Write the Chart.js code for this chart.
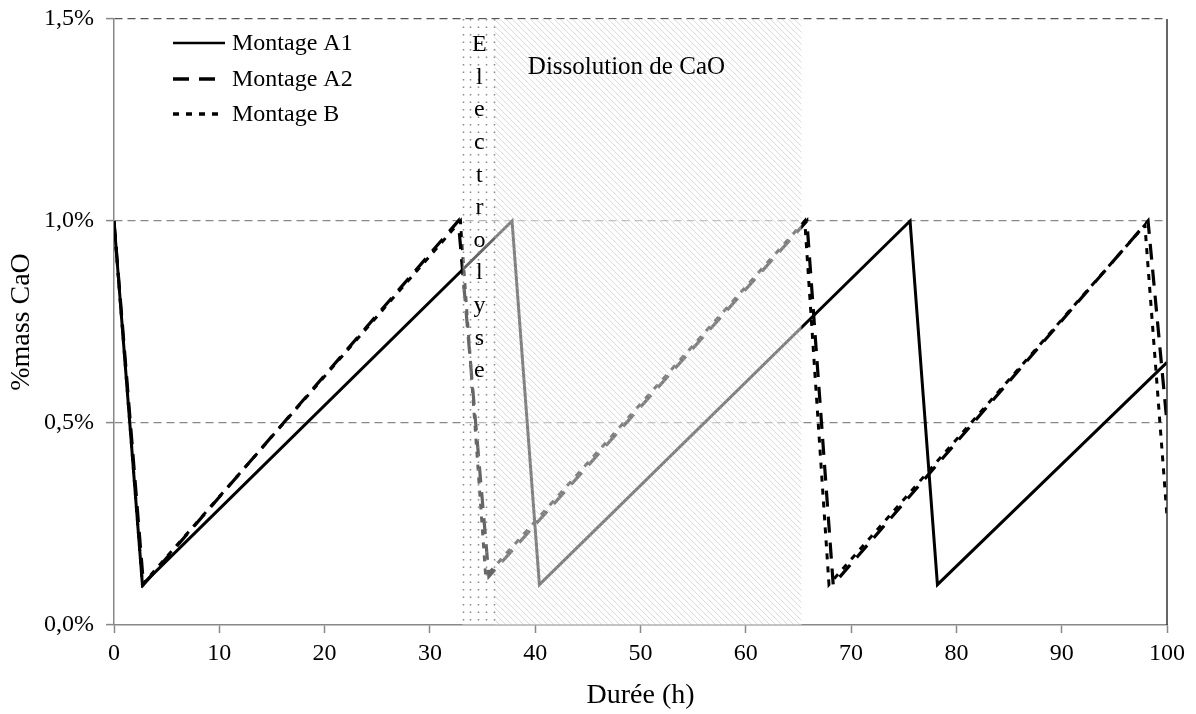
<!DOCTYPE html>
<html lang="fr">
<head>
    <meta charset="UTF-8">
    <title>%mass CaO - Durée</title>
    <script src="https://cdn.jsdelivr.net/npm/chart.js"></script>
    <style>
        body { margin: 0; background: white; }
        #chart { display: block; }
    </style>
</head>
<body>
    <canvas id="chart" width="1196" height="714"></canvas>

    <script>
        // Montage A1 (solid)
        const a1Hours = [0, 2.7, 37.8, 40.4, 75.6, 78.2, 100];
        const a1CaO   = [1.0, 0.1, 1.0, 0.1, 1.0, 0.1, 0.65];
        // Montage A2 (long dashes)
        const a2Hours = [0, 2.8, 32.7, 35.6, 65.8, 68.3, 98.2, 100];
        const a2CaO   = [1.0, 0.1, 1.0, 0.12, 1.0, 0.1, 1.0, 0.5];
        // Montage B (short dashes)
        const bHours  = [0, 2.7, 32.9, 35.3, 65.6, 67.9, 97.9, 100];
        const bCaO    = [1.0, 0.1, 1.0, 0.12, 1.0, 0.1, 0.99, 0.27];

        const seriesNames = ['Montage A1', 'Montage A2', 'Montage B'];
        const xTicks = [0, 10, 20, 30, 40, 50, 60, 70, 80, 90, 100];
        const yTicks = [0, 0.5, 1.0, 1.5];

        // shaded zones (h)
        const electrolyseZone = [33.1, 36.1];
        const dissolutionZone = [36.1, 65.3];

        const serif = '"Liberation Serif", "Times New Roman", serif';
        const lineDash = [[], [16, 10], [6, 7]];
        const lineWidths = [3, 3.2, 3];

        function toPoints(xs, ys) {
            return xs.map((x, i) => ({ x: x, y: ys[i] }));
        }

        const zonesPlugin = {
            id: 'zones',
            afterDatasetsDraw(chart) {
                const ctx = chart.ctx;
                const area = chart.chartArea;
                const xs = chart.scales.x;

                // dissolution zone: fade + hatch
                const d0 = xs.getPixelForValue(dissolutionZone[0]);
                const d1 = xs.getPixelForValue(dissolutionZone[1]);
                ctx.save();
                ctx.beginPath();
                ctx.rect(d0, area.top, d1 - d0, area.bottom - area.top);
                ctx.clip();
                ctx.fillStyle = 'rgba(255,255,255,0.5)';
                ctx.fillRect(d0, area.top, d1 - d0, area.bottom - area.top);
                ctx.strokeStyle = 'rgba(170,170,170,0.45)';
                ctx.lineWidth = 1;
                const h = area.bottom - area.top;
                for (let k = d0 - h; k < d1; k += 6) {
                    ctx.beginPath();
                    ctx.moveTo(k, area.top);
                    ctx.lineTo(k + h, area.bottom);
                    ctx.stroke();
                }
                ctx.restore();

                // electrolyse zone: fade + dotted verticals
                const e0 = xs.getPixelForValue(electrolyseZone[0]);
                const e1 = xs.getPixelForValue(electrolyseZone[1]);
                ctx.save();
                ctx.fillStyle = 'rgba(255,255,255,0.4)';
                ctx.fillRect(e0, area.top, e1 - e0, area.bottom - area.top);
                ctx.strokeStyle = '#888';
                ctx.lineWidth = 1.5;
                ctx.setLineDash([1.5, 6]);
                const n = 4;
                for (let i = 0; i <= n; i++) {
                    const px = Math.round(e0 + (e1 - e0) * i / n) + 0.5;
                    ctx.beginPath();
                    ctx.moveTo(px, area.top);
                    ctx.lineTo(px, area.bottom);
                    ctx.stroke();
                }
                ctx.restore();

                // labels
                ctx.save();
                ctx.fillStyle = '#000';
                ctx.font = '24px ' + serif;
                ctx.textAlign = 'center';
                ctx.textBaseline = 'middle';
                const word = 'Electrolyse';
                const ex = xs.getPixelForValue(34.7);
                for (let i = 0; i < word.length; i++) {
                    ctx.fillText(word[i], ex, area.top + 26 + i * 32.6);
                }
                ctx.font = '25px ' + serif;
                ctx.textAlign = 'left';
                ctx.fillText('Dissolution de CaO', xs.getPixelForValue(39.3), area.top + 48);
                ctx.restore();

                // right border
                ctx.save();
                ctx.strokeStyle = '#333';
                ctx.lineWidth = 1.5;
                ctx.beginPath();
                ctx.moveTo(area.right, area.top);
                ctx.lineTo(area.right, area.bottom);
                ctx.stroke();
                ctx.restore();

                // legend
                ctx.save();
                ctx.font = '24px ' + serif;
                ctx.textAlign = 'left';
                ctx.textBaseline = 'middle';
                const ly = [43, 79, 114];
                chart.data.datasets.forEach((ds, i) => {
                    ctx.strokeStyle = '#000';
                    ctx.lineWidth = i === 0 ? 2.5 : 3.5;
                    ctx.setLineDash(ds.borderDash || []);
                    ctx.beginPath();
                    ctx.moveTo(173, ly[i]);
                    ctx.lineTo(225, ly[i]);
                    ctx.stroke();
                    ctx.fillStyle = '#000';
                    ctx.fillText(ds.label, 232, ly[i] + 1);
                });
                ctx.restore();
            }
        };

        const hours = [a1Hours, a2Hours, bHours];
        const values = [a1CaO, a2CaO, bCaO];

        new Chart(document.getElementById('chart'), {
            type: 'scatter',
            data: {
                datasets: seriesNames.map((name, i) => ({
                    label: name,
                    data: toPoints(hours[i], values[i]),
                    borderDash: lineDash[i],
                    borderWidth: lineWidths[i],
                    showLine: true,
                    borderColor: '#000',
                    backgroundColor: '#000',
                    pointRadius: 0,
                    tension: 0,
                    fill: false
                }))
            },
            options: {
                responsive: false,
                animation: false,
                devicePixelRatio: 1,
                layout: { padding: { top: 19, right: 29, left: 0, bottom: 0 } },
                plugins: {
                    legend: { display: false },
                    tooltip: { enabled: false }
                },
                scales: {
                    x: {
                        type: 'linear',
                        min: 0,
                        max: 100,
                        afterBuildTicks: s => { s.ticks = xTicks.map(v => ({ value: v })); },
                        afterFit: s => { s.height = 89; },
                        ticks: { font: { family: serif, size: 24 }, color: '#000', padding: 6, maxRotation: 0 },
                        grid: { drawOnChartArea: false, tickLength: 8, color: '#888', tickWidth: 1.5 },
                        border: { color: '#888', width: 1.5 },
                        title: { display: true, text: 'Durée (h)', font: { family: serif, size: 28 }, color: '#000', padding: { top: 0, bottom: 2 } }
                    },
                    y: {
                        min: 0,
                        max: 1.5,
                        afterBuildTicks: s => { s.ticks = yTicks.map(v => ({ value: v })); },
                        afterFit: s => { s.width = 114; s.paddingTop = 0; s.paddingBottom = 0; },
                        ticks: {
                            font: { family: serif, size: 24 },
                            color: '#000',
                            padding: 12,
                            callback: v => v.toFixed(1).replace('.', ',') + '%'
                        },
                        grid: {
                            tickLength: 8,
                            tickColor: '#888',
                            tickWidth: 1.5,
                            lineWidth: 1.2,
                            color: c => c.tick && c.tick.value === 0 ? 'rgba(0,0,0,0)' : (c.tick && c.tick.value === 1.5 ? '#555' : '#888')
                        },
                        border: { color: '#888', width: 1.5, dash: [8, 5] },
                        title: { display: true, text: '%mass CaO', font: { family: serif, size: 28 }, color: '#000', padding: { top: 5, bottom: 0 } }
                    }
                }
            },
            plugins: [zonesPlugin]
        });
    </script>
</body>
</html>
